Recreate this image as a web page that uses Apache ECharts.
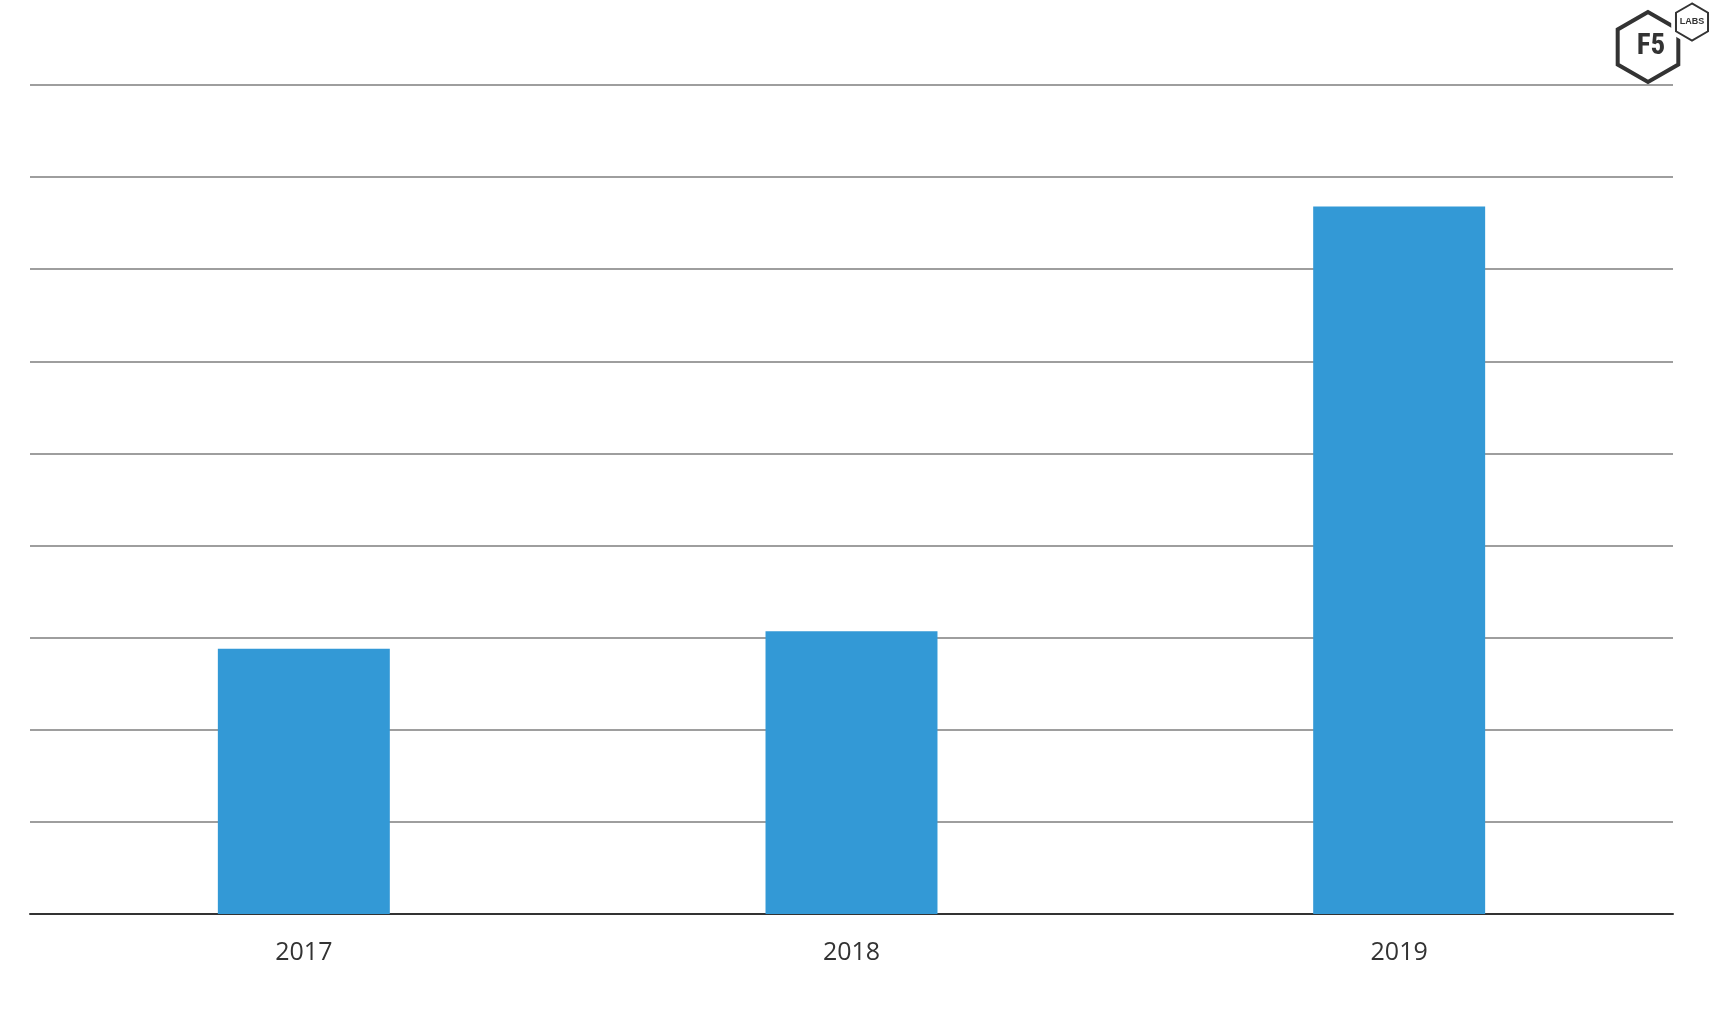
<!DOCTYPE html>
<html>
<head>
<meta charset="utf-8">
<script src="https://cdn.jsdelivr.net/npm/echarts@6/dist/echarts.min.js"></script>
<style>
html,body{margin:0;padding:0;background:#fff;}
#chart{width:1716px;height:1028px;}
</style>
</head>
<body>
<div id="chart"></div>
<script>
const categories = ['2017', '2018', '2019'];
const values = [2.88, 3.07, 7.68];

function hex(cx, cy, r) {
  const pts = [];
  for (let i = 0; i < 6; i++) {
    const a = Math.PI / 180 * (90 + 60 * i);
    pts.push([cx + r * Math.cos(a), cy - r * Math.sin(a)]);
  }
  return pts;
}

const chart = echarts.init(document.getElementById('chart'));
chart.setOption({
  backgroundColor: '#ffffff',
  animation: false,
  grid: { left: 30, right: 43, top: 85, bottom: 114, containLabel: false },
  xAxis: {
    type: 'category',
    data: categories,
    axisLine: { show: true, lineStyle: { color: '#333333', width: 2 } },
    axisTick: { show: false },
    axisLabel: { color: '#333333', fontSize: 25, fontFamily: 'Open Sans', margin: 26 },
    splitLine: { show: false }
  },
  yAxis: {
    type: 'value',
    min: 0, max: 9, interval: 1,
    axisLine: { show: false },
    axisTick: { show: false },
    axisLabel: { show: false },
    splitLine: { show: true, lineStyle: { color: '#9e9e9e', width: 2 } }
  },
  series: [{
    type: 'bar',
    data: values,
    barWidth: '31.4%',
    itemStyle: { color: '#3399d6' }
  }],
  graphic: [
    { type: 'polygon', shape: { points: hex(1648, 47, 35) }, style: { fill: 'none', stroke: '#333333', lineWidth: 4 }, z: 10 },
    { type: 'polygon', shape: { points: hex(1692, 22, 24) }, style: { fill: '#ffffff', stroke: null }, z: 11 },
    { type: 'polygon', shape: { points: hex(1692, 22, 18.5) }, style: { fill: '#ffffff', stroke: '#333333', lineWidth: 2 }, z: 12 },
    { type: 'text', x: 1651, y: 47, style: { text: 'F5', fill: '#333333', font: 'bold 29px "Roboto Condensed", "Liberation Sans Narrow", Roboto, sans-serif', align: 'center', verticalAlign: 'middle' }, z: 13 },
    { type: 'text', x: 1692, y: 22, style: { text: 'LABS', fill: '#333333', font: 'bold 9px "Liberation Sans Narrow", "Liberation Sans", sans-serif', align: 'center', verticalAlign: 'middle' }, z: 13 }
  ]
});
</script>
</body>
</html>
